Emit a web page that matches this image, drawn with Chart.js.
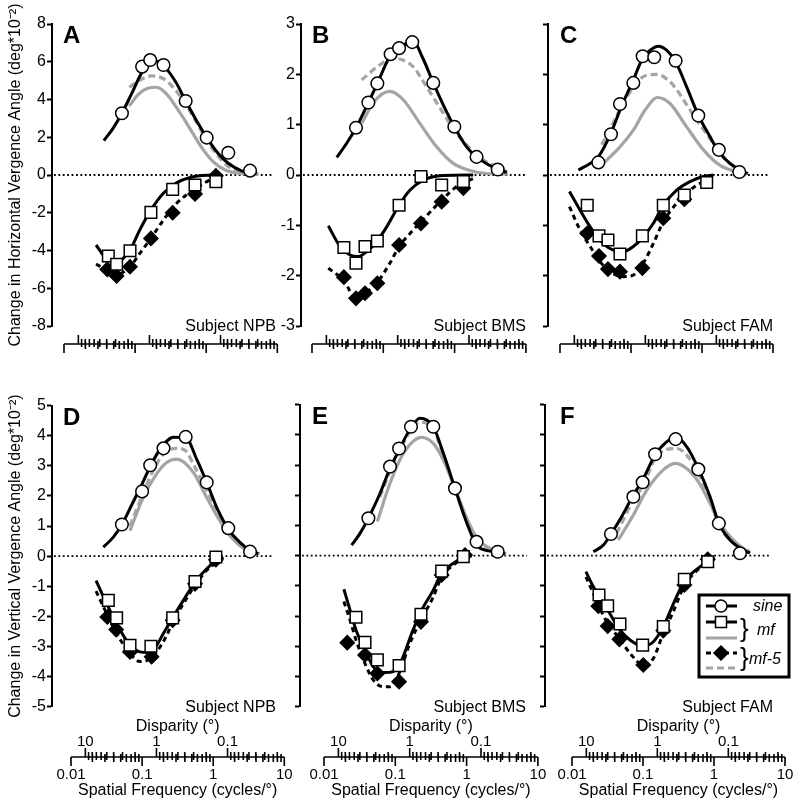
<!DOCTYPE html>
<html>
<head>
<meta charset="utf-8">
<script src="https://cdn.jsdelivr.net/npm/chart.js@4.4.1/dist/chart.umd.min.js"></script>
<style>
  html, body { margin: 0; padding: 0; background: #fff; }
  #wrap { position: relative; width: 800px; height: 801px; overflow: hidden; background: #fff; }
  #wrap canvas { position: absolute; }
</style>
</head>
<body>
<div id="wrap"></div>
<script>
// ---- data: [spatial frequency (cycles/deg), change in vergence (deg*10^-2)] ----
// panel A (horizontal, NPB)
const sineA = [[0.052,3.27],[0.10,5.74],[0.13,6.09],[0.20,5.83],[0.41,3.92],[0.81,1.98],[1.63,1.18],[3.3,0.23]];
const sineFitA = [[0.029,1.82],[0.039,2.47],[0.052,3.27],[0.071,4.3],[0.10,5.45],[0.13,5.95],[0.16,6.02],[0.20,5.8],[0.30,4.9],[0.41,3.92],[0.60,2.8],[0.81,1.98],[1.2,1.1],[1.63,0.62],[2.5,0.22],[4.1,0.1]];
const mfPosA = [[0.066,3.66],[0.09,4.3],[0.12,4.6],[0.16,4.65],[0.22,4.3],[0.34,3.3],[0.5,2.3],[0.65,1.6],[0.81,1.1],[1.0,0.7],[1.5,0.25],[2.5,0.08],[4.3,0.03]];
const mf5PosA = [[0.066,4.65],[0.09,5.0],[0.136,5.25],[0.2,5.1],[0.28,4.6],[0.41,3.75],[0.6,2.7],[0.81,1.85],[1.2,0.95],[1.63,0.45],[2.5,0.18],[4.3,0.08]];
const mfA = [[0.0335,-4.29],[0.0438,-4.73],[0.0676,-4.01],[0.133,-1.98],[0.269,-0.76],[0.555,-0.53],[1.09,-0.35]];
const mfFitA = [[0.0225,-3.71],[0.0318,-4.45],[0.0438,-4.6],[0.0676,-3.98],[0.093,-2.9],[0.133,-1.86],[0.199,-0.97],[0.306,-0.41],[0.526,-0.09],[1.0,0],[1.32,0]];
const mf5A = [[0.0324,-5.0],[0.0438,-5.35],[0.0676,-4.86],[0.133,-3.36],[0.269,-2.0],[0.555,-1.01],[1.09,-0.04]];
const mf5FitA = [[0.0225,-4.72],[0.0318,-5.03],[0.0438,-5.27],[0.0676,-4.86],[0.093,-4.15],[0.133,-3.36],[0.199,-2.39],[0.306,-1.5],[0.526,-0.8],[1.0,-0.18],[1.32,-0.04]];

// panel B (horizontal, BMS)
const sineB = [[0.0281,0.94],[0.0419,1.44],[0.056,1.82],[0.086,2.4],[0.113,2.52],[0.173,2.64],[0.341,1.83],[0.673,0.96],[1.38,0.36],[2.73,0.11]];
const sineFitB = [[0.0151,0.35],[0.0208,0.63],[0.0281,0.94],[0.0419,1.44],[0.056,1.82],[0.086,2.38],[0.13,2.58],[0.178,2.65],[0.247,2.3],[0.341,1.83],[0.472,1.39],[0.673,0.96],[1.0,0.56],[1.38,0.36],[2.73,0.11],[3.65,0.05]];
const mfPosB = [[0.034,1.03],[0.05,1.45],[0.084,1.66],[0.13,1.49],[0.22,1.03],[0.38,0.56],[0.65,0.23],[1.11,0.09],[1.9,0.03],[3.8,0.02]];
const mf5PosB = [[0.0337,1.89],[0.061,2.19],[0.094,2.32],[0.13,2.28],[0.178,2.15],[0.275,1.75],[0.47,1.23],[0.72,0.83],[1.11,0.53],[1.71,0.3],[3.3,0.1],[3.8,0.05]];
const mfB = [[0.019,-1.44],[0.0281,-1.75],[0.0376,-1.42],[0.056,-1.31],[0.113,-0.6],[0.229,-0.03],[0.447,-0.2],[0.90,-0.13]];
const mfFitB = [[0.0115,-1.01],[0.0168,-1.42],[0.0232,-1.59],[0.0303,-1.62],[0.0398,-1.52],[0.055,-1.32],[0.0757,-1.03],[0.113,-0.6],[0.161,-0.3],[0.247,-0.1],[0.472,-0.01],[1.24,0]];
const mf5B = [[0.019,-2.03],[0.0281,-2.45],[0.0376,-2.35],[0.056,-2.15],[0.113,-1.39],[0.229,-0.96],[0.447,-0.53],[0.90,-0.26]];
const mf5FitB = [[0.0115,-1.85],[0.019,-2.1],[0.0281,-2.45],[0.0376,-2.35],[0.056,-2.13],[0.084,-1.75],[0.113,-1.42],[0.161,-1.16],[0.229,-0.93],[0.447,-0.5],[0.726,-0.23],[1.24,-0.07]];

// panel C (horizontal, FAM)
const sineC = [[0.0235,0.25],[0.0354,0.81],[0.0474,1.41],[0.0731,1.83],[0.0989,2.36],[0.144,2.34],[0.288,2.27],[0.601,1.18],[1.17,0.5],[2.27,0.06]];
const sineFitC = [[0.0123,0.1],[0.018,0.23],[0.0235,0.36],[0.0354,0.83],[0.0474,1.29],[0.0731,1.89],[0.0989,2.32],[0.126,2.48],[0.164,2.56],[0.215,2.48],[0.288,2.25],[0.412,1.75],[0.601,1.19],[0.88,0.76],[1.17,0.46],[1.68,0.23],[2.59,0.07],[3.0,0.03]];
const mfPosC = [[0.0262,0.2],[0.0474,0.56],[0.0731,0.89],[0.107,1.29],[0.16,1.54],[0.24,1.42],[0.41,0.96],[0.71,0.5],[1.22,0.19],[2.59,0.03]];
const mf5PosC = [[0.0262,0.6],[0.0354,0.95],[0.0474,1.3],[0.0731,1.75],[0.1,1.95],[0.156,2.0],[0.22,1.9],[0.29,1.72],[0.41,1.4],[0.6,1.05],[0.88,0.72],[1.17,0.48],[1.68,0.22],[2.6,0.06],[3.0,0.02]];
const mfC = [[0.0164,-0.6],[0.024,-1.21],[0.0321,-1.29],[0.0474,-1.57],[0.098,-1.21],[0.193,-0.6],[0.382,-0.4],[0.789,-0.15]];
const mfFitC = [[0.0092,-0.33],[0.013,-0.7],[0.018,-1.03],[0.0248,-1.29],[0.0343,-1.46],[0.0528,-1.52],[0.073,-1.42],[0.101,-1.23],[0.14,-0.96],[0.193,-0.6],[0.298,-0.3],[0.459,-0.13],[0.708,-0.03],[0.98,0]];
const mf5C = [[0.0164,-1.16],[0.024,-1.61],[0.0321,-1.87],[0.0474,-1.92],[0.098,-1.85],[0.193,-0.86],[0.382,-0.48]];
const mf5FitC = [[0.0092,-0.63],[0.013,-1.09],[0.018,-1.42],[0.0248,-1.72],[0.0343,-1.92],[0.0528,-2.02],[0.073,-1.99],[0.101,-1.75],[0.14,-1.36],[0.193,-0.93],[0.298,-0.56],[0.459,-0.3],[0.708,-0.13],[0.98,-0.03]];

// panel D (vertical, NPB)
const sineD = [[0.052,1.05],[0.10,2.15],[0.13,3.02],[0.20,3.58],[0.41,3.96],[0.81,2.45],[1.63,0.93],[3.3,0.15]];
const sineFitD = [[0.0285,0.3],[0.0394,0.63],[0.052,1.05],[0.0713,1.7],[0.10,2.4],[0.133,3.02],[0.179,3.55],[0.275,3.95],[0.41,3.94],[0.585,3.22],[0.81,2.45],[1.12,1.62],[1.63,0.9],[2.38,0.46],[3.3,0.19],[4.3,0.08]];
const mfPosD = [[0.0676,0.85],[0.104,1.95],[0.16,2.73],[0.22,3.1],[0.306,3.22],[0.527,2.78],[0.81,1.95],[1.12,1.35],[1.63,0.74],[2.38,0.35],[3.67,0.13],[4.5,0.08]];
const mf5PosD = [[0.0676,1.0],[0.104,2.1],[0.144,2.85],[0.2,3.4],[0.306,3.58],[0.41,3.5],[0.527,3.05],[0.81,2.2],[1.12,1.5],[1.63,0.85],[2.38,0.41],[3.3,0.19],[4.3,0.08]];
const mfD = [[0.0335,-1.47],[0.0438,-2.05],[0.0676,-2.96],[0.133,-2.99],[0.269,-2.05],[0.555,-0.84],[1.09,-0.03]];
const mfFitD = [[0.0225,-0.81],[0.0318,-1.58],[0.0438,-2.24],[0.0676,-2.96],[0.093,-3.18],[0.12,-3.2],[0.16,-2.96],[0.199,-2.57],[0.269,-2.05],[0.38,-1.47],[0.555,-0.86],[0.81,-0.42],[1.12,-0.14],[1.39,-0.03]];
const mf5D = [[0.0324,-2.02],[0.0432,-2.44],[0.0676,-3.18],[0.136,-3.34],[0.269,-2.13],[0.555,-0.92],[1.09,-0.12]];
const mf5FitD = [[0.0225,-1.16],[0.0318,-1.91],[0.0438,-2.57],[0.0676,-3.23],[0.093,-3.5],[0.12,-3.45],[0.16,-3.18],[0.222,-2.63],[0.269,-2.19],[0.38,-1.58],[0.555,-0.97],[0.81,-0.47],[1.12,-0.2],[1.39,-0.03]];

// panel E (vertical, BMS)
const sineE = [[0.0419,1.24],[0.0843,2.95],[0.113,3.55],[0.166,4.27],[0.341,4.27],[0.687,2.23],[1.38,0.46],[2.73,0.13]];
const sineFitE = [[0.0244,0.35],[0.032,0.74],[0.0419,1.24],[0.061,2.06],[0.0843,2.89],[0.113,3.5],[0.16,4.18],[0.222,4.55],[0.341,4.27],[0.472,3.39],[0.687,2.23],[1.0,1.1],[1.38,0.35],[2.13,0.15],[3.46,0.06]];
const mfPosE = [[0.056,1.13],[0.0843,2.4],[0.13,3.39],[0.234,3.92],[0.341,3.72],[0.472,3.17],[0.687,2.23],[1.0,1.25],[1.38,0.6],[2.13,0.24],[3.6,0.06]];
const mf5PosE = [[0.061,1.95],[0.0843,2.8],[0.113,3.45],[0.16,4.1],[0.222,4.42],[0.341,4.18],[0.472,3.35],[0.687,2.2],[1.0,1.15],[1.38,0.5],[2.13,0.2],[3.46,0.06]];
const mfE = [[0.0281,-2.04],[0.0376,-2.87],[0.056,-3.45],[0.113,-3.64],[0.229,-1.94],[0.447,-0.51],[0.90,-0.03]];
const mfFitE = [[0.019,-1.11],[0.0232,-1.8],[0.0281,-2.46],[0.0376,-3.12],[0.0492,-3.68],[0.068,-3.87],[0.0938,-3.84],[0.123,-3.45],[0.17,-2.57],[0.229,-1.85],[0.341,-1.14],[0.447,-0.58],[0.652,-0.25],[0.9,-0.06],[1.18,0]];
const mf5E = [[0.0212,-2.88],[0.0376,-3.29],[0.056,-3.9],[0.113,-4.17],[0.229,-2.19],[0.447,-0.64],[0.95,0.02]];
const mf5FitE = [[0.019,-1.52],[0.0232,-2.13],[0.0281,-2.79],[0.0376,-3.57],[0.0492,-4.12],[0.068,-4.34],[0.0843,-4.34],[0.113,-3.9],[0.16,-2.9],[0.229,-2.13],[0.341,-1.36],[0.447,-0.7],[0.652,-0.31],[0.95,-0.03]];

// panel F (vertical, FAM)
const sineF = [[0.0354,0.72],[0.0731,1.95],[0.0989,2.43],[0.148,3.36],[0.288,3.86],[0.601,2.86],[1.17,1.07],[2.32,0.08]];
const sineFitF = [[0.02,0.13],[0.0276,0.35],[0.0354,0.72],[0.05,1.29],[0.0731,2.01],[0.0989,2.51],[0.148,3.33],[0.215,3.77],[0.298,3.92],[0.412,3.61],[0.601,2.89],[0.88,1.95],[1.17,1.07],[1.68,0.52],[2.59,0.19],[3.21,0.08]];
const mfPosF = [[0.045,0.52],[0.0731,1.35],[0.113,2.17],[0.193,2.84],[0.282,3.06],[0.412,2.89],[0.601,2.45],[0.88,1.73],[1.17,1.13],[1.68,0.63],[2.59,0.24],[3.21,0.13]];
const mf5PosF = [[0.0425,0.74],[0.0731,1.84],[0.101,2.34],[0.148,3.22],[0.215,3.52],[0.298,3.55],[0.412,3.33],[0.601,2.73],[0.88,1.84],[1.17,1.02],[1.68,0.52],[2.59,0.19],[3.21,0.13]];
const mfF = [[0.024,-1.3],[0.0318,-1.66],[0.0474,-2.26],[0.0989,-2.96],[0.193,-2.35],[0.382,-0.78],[0.815,-0.2]];
const mfFitF = [[0.0157,-0.53],[0.02,-1.03],[0.024,-1.36],[0.0318,-1.8],[0.0474,-2.46],[0.0656,-2.79],[0.0989,-2.99],[0.14,-2.85],[0.193,-2.35],[0.267,-1.6],[0.382,-0.85],[0.57,-0.45],[0.815,-0.2],[1.03,-0.09]];
const mf5F = [[0.0235,-1.67],[0.0318,-2.33],[0.0465,-2.77],[0.101,-3.62],[0.193,-2.48],[0.382,-0.97],[0.815,-0.12]];
const mf5FitF = [[0.0157,-0.7],[0.02,-1.25],[0.0235,-1.63],[0.0318,-2.24],[0.0465,-2.74],[0.0656,-3.23],[0.101,-3.62],[0.14,-3.4],[0.193,-2.57],[0.267,-1.85],[0.382,-1.0],[0.57,-0.5],[0.815,-0.2],[1.03,-0.09]];

// axis ticks and labels
const sfMajor = [0.01, 0.1, 1, 10];
const sfTickLabels = ['0.01', '0.1', '1', '10'];
const dispMajor = [10, 1, 0.1];
const dispTickLabels = ['10', '1', '0.1'];
const legendLabels = ['sine', 'mf', 'mf-5'];

const FONT = '"Liberation Sans", Arial, Helvetica, sans-serif';
const GRAY = '#a4a4a4';

// ---- layout ----
const rows = [
  { top: 0, height: 400, areaTop: 24, areaBottom: 326, axisY: 344, axisLabels: false },
  { top: 395, height: 406, areaTop: 404.6, areaBottom: 706.7, axisY: 757, axisLabels: true }
];
const cols = [
  { left: 0, width: 300, zero: 71, ppd: 71.1, yAxisX: [52, 52], right: [272, 272], shift: [-7, 0], subjectRight: 276, letterX: 63 },
  { left: 258, width: 300, zero: 324, ppd: 71.3, yAxisX: [301, 300], right: [527, 527], shift: [-12, 0], subjectRight: 526, letterX: 312 },
  { left: 508, width: 292, zero: 572, ppd: 71, yAxisX: [548, 545], right: [768, 770], shift: [-12, 0], subjectRight: 773, letterX: 560 }
];

const panels = [
  { letter: 'A', row: 0, col: 0, subject: 'Subject NPB', yMin: -8, yMax: 8, step: 2, labels: true,
    title: 'Change in Horizontal Vergence Angle (deg*10\u207B\u00B2)',
    sine: sineA, sineFit: sineFitA, mfPos: mfPosA, mf5Pos: mf5PosA, mf: mfA, mfFit: mfFitA, mf5: mf5A, mf5Fit: mf5FitA },
  { letter: 'B', row: 0, col: 1, subject: 'Subject BMS', yMin: -3, yMax: 3, step: 1, labels: true,
    sine: sineB, sineFit: sineFitB, mfPos: mfPosB, mf5Pos: mf5PosB, mf: mfB, mfFit: mfFitB, mf5: mf5B, mf5Fit: mf5FitB },
  { letter: 'C', row: 0, col: 2, subject: 'Subject FAM', yMin: -3, yMax: 3, step: 1, labels: false,
    sine: sineC, sineFit: sineFitC, mfPos: mfPosC, mf5Pos: mf5PosC, mf: mfC, mfFit: mfFitC, mf5: mf5C, mf5Fit: mf5FitC },
  { letter: 'D', row: 1, col: 0, subject: 'Subject NPB', yMin: -5, yMax: 5, step: 1, labels: true,
    title: 'Change in Vertical Vergence Angle (deg*10\u207B\u00B2)',
    sine: sineD, sineFit: sineFitD, mfPos: mfPosD, mf5Pos: mf5PosD, mf: mfD, mfFit: mfFitD, mf5: mf5D, mf5Fit: mf5FitD },
  { letter: 'E', row: 1, col: 1, subject: 'Subject BMS', yMin: -5, yMax: 5, step: 1, labels: false,
    sine: sineE, sineFit: sineFitE, mfPos: mfPosE, mf5Pos: mf5PosE, mf: mfE, mfFit: mfFitE, mf5: mf5E, mf5Fit: mf5FitE },
  { letter: 'F', row: 1, col: 2, subject: 'Subject FAM', yMin: -5, yMax: 5, step: 1, labels: false, legend: true,
    sine: sineF, sineFit: sineFitF, mfPos: mfPosF, mf5Pos: mf5PosF, mf: mfF, mfFit: mfFitF, mf5: mf5F, mf5Fit: mf5FitF }
];

const toSF = d => 1 / (2 * Math.PI * d);

function drawMarker(ctx, style, x, y) {
  ctx.save();
  ctx.lineWidth = 1.5;
  ctx.strokeStyle = '#000';
  ctx.beginPath();
  if (style === 'circle') {
    ctx.fillStyle = '#fff';
    ctx.arc(x, y, 6, 0, Math.PI * 2);
  } else if (style === 'rect') {
    ctx.fillStyle = '#fff';
    ctx.rect(x - 5.5, y - 5.5, 11, 11);
  } else {
    ctx.fillStyle = '#000';
    ctx.moveTo(x - 7, y); ctx.lineTo(x, y - 7); ctx.lineTo(x + 7, y); ctx.lineTo(x, y + 7);
    ctx.closePath();
  }
  ctx.fill();
  ctx.stroke();
  ctx.restore();
}

// dotted zero line
const zeroLine = {
  id: 'zeroLine',
  beforeDatasetsDraw(chart) {
    const { ctx, chartArea } = chart;
    const y = chart.scales.y.getPixelForValue(0);
    ctx.save();
    ctx.strokeStyle = '#000';
    ctx.lineWidth = 1.8;
    ctx.setLineDash([1.8, 2.6]);
    ctx.beginPath();
    ctx.moveTo(chartArea.left + 2, y);
    ctx.lineTo(chartArea.right, y);
    ctx.stroke();
    ctx.restore();
  }
};

// spatial frequency axis with disparity ticks on the same line
const sfAxis = {
  id: 'sfAxis',
  afterDraw(chart, args, o) {
    const ctx = chart.ctx;
    const xs = chart.scales.x;
    const px = v => xs.getPixelForValue(v) + o.shift;
    const y = o.y;
    ctx.save();
    ctx.strokeStyle = '#000';
    ctx.lineWidth = 1.6;
    ctx.beginPath();
    ctx.moveTo(px(0.01), y);
    ctx.lineTo(px(10), y);
    sfMajor.forEach(v => { ctx.moveTo(px(v), y); ctx.lineTo(px(v), y + 9); });
    dispMajor.forEach(d => { ctx.moveTo(px(toSF(d)), y); ctx.lineTo(px(toSF(d)), y - 9); });
    for (const dec of [0.01, 0.1, 1]) {
      for (let k = 2; k <= 9; k++) {
        const x1 = px(k * dec);
        ctx.moveTo(x1, y - 3); ctx.lineTo(x1, y + 5);
        const x2 = px(toSF(k * dec));
        ctx.moveTo(x2, y - 5); ctx.lineTo(x2, y + 3);
      }
    }
    ctx.stroke();
    if (o.labels) {
      ctx.fillStyle = '#000';
      ctx.font = '15px ' + FONT;
      ctx.textAlign = 'center';
      ctx.textBaseline = 'alphabetic';
      dispMajor.forEach((d, i) => ctx.fillText(dispTickLabels[i], px(toSF(d)), y - 11));
      sfMajor.forEach((v, i) => ctx.fillText(sfTickLabels[i], px(v), y + 22));
      const mid = (px(0.01) + px(10)) / 2;
      ctx.font = '16px ' + FONT;
      ctx.fillText('Disparity (\u00B0)', mid, y - 26);
      ctx.fillText('Spatial Frequency (cycles/\u00B0)', mid, y + 38);
    }
    ctx.restore();
  }
};

// panel letter and subject name
const panelText = {
  id: 'panelText',
  afterDraw(chart, args, o) {
    const { ctx, chartArea } = chart;
    ctx.save();
    ctx.fillStyle = '#000';
    ctx.font = 'bold 24px ' + FONT;
    ctx.textAlign = 'left';
    ctx.fillText(o.letter, o.letterX, chartArea.top + 19);
    ctx.font = '16px ' + FONT;
    ctx.textAlign = 'right';
    ctx.fillText(o.subject, o.subjectRight, chartArea.bottom + 5);
    ctx.restore();
  }
};

// legend box with braces
const legendBox = {
  id: 'legendBox',
  afterDraw(chart, args, o) {
    const ctx = chart.ctx;
    const X = v => v - o.left;
    const Y = v => v - o.top;
    ctx.save();
    ctx.fillStyle = '#fff';
    ctx.fillRect(X(699), Y(595), 90, 82);
    ctx.strokeStyle = '#000';
    ctx.lineWidth = 3;
    ctx.strokeRect(X(699), Y(595), 90, 82);
    const lines = [
      { y: 606, color: '#000', dash: [], marker: 'circle' },
      { y: 622, color: '#000', dash: [], marker: 'rect' },
      { y: 638, color: GRAY, dash: [] },
      { y: 653, color: '#000', dash: [5, 4], marker: 'diamond' },
      { y: 668, color: GRAY, dash: [7, 4] }
    ];
    lines.forEach(l => {
      ctx.save();
      ctx.strokeStyle = l.color;
      ctx.lineWidth = 3;
      ctx.setLineDash(l.dash);
      ctx.beginPath();
      ctx.moveTo(X(706), Y(l.y));
      ctx.lineTo(X(737), Y(l.y));
      ctx.stroke();
      ctx.restore();
      if (l.marker) drawMarker(ctx, l.marker, X(721), Y(l.y));
    });
    ctx.fillStyle = '#000';
    ctx.textBaseline = 'middle';
    ctx.textAlign = 'left';
    ctx.font = 'italic 16px ' + FONT;
    ctx.fillText(legendLabels[0], X(753), Y(607));
    ctx.fillText(legendLabels[1], X(757), Y(631));
    ctx.fillText(legendLabels[2], X(749), Y(660));
    ctx.font = '26px ' + FONT;
    ctx.fillText('}', X(740), Y(630));
    ctx.fillText('}', X(740), Y(659));
    ctx.restore();
  }
};

const pts = arr => arr.map(([x, y]) => ({ x, y }));

const wrap = document.getElementById('wrap');

panels.forEach(p => {
  const row = rows[p.row];
  const col = cols[p.col];
  const canvas = document.createElement('canvas');
  canvas.width = col.width;
  canvas.height = row.height;
  canvas.style.left = col.left + 'px';
  canvas.style.top = row.top + 'px';
  wrap.appendChild(canvas);

  const axisPx = col.yAxisX[p.row];
  const rightPx = col.right[p.row];
  const xMin = Math.pow(10, -2 + (axisPx - col.zero) / col.ppd);
  const xMax = Math.pow(10, -2 + (rightPx - col.zero) / col.ppd);

  const curve = (data, color, dash, order) => ({
    data: pts(data), borderColor: color, borderWidth: color === GRAY ? 3.2 : 3,
    borderDash: dash, pointRadius: 0, cubicInterpolationMode: 'monotone',
    fill: false, order: order, clip: false
  });
  const marks = (data, style, radius, fillColor, order) => ({
    data: pts(data), showLine: false, pointStyle: style, pointRadius: radius,
    pointBackgroundColor: fillColor, pointBorderColor: '#000', pointBorderWidth: 1.5,
    order: order, clip: false
  });

  const datasets = [
    curve(p.mfPos, GRAY, [], 10),
    curve(p.mf5Pos, GRAY, [7, 4], 9),
    curve(p.sineFit, '#000', [], 8),
    curve(p.mfFit, '#000', [], 7),
    curve(p.mf5Fit, '#000', [5, 4], 6),
    marks(p.mf5, 'rectRot', 7, '#000', 3),
    marks(p.mf, 'rect', 8.2, '#fff', 2),
    marks(p.sine, 'circle', 6.3, '#fff', 1)
  ];

  const plugins = [zeroLine, sfAxis, panelText];
  if (p.legend) plugins.push(legendBox);

  new Chart(canvas, {
    type: 'line',
    data: { datasets: datasets },
    options: {
      responsive: false,
      animation: false,
      events: [],
      layout: {
        padding: {
          left: 0,
          top: row.areaTop - row.top,
          right: col.width - (rightPx - col.left),
          bottom: row.top + row.height - row.areaBottom
        }
      },
      scales: {
        x: { type: 'logarithmic', display: false, min: xMin, max: xMax },
        y: {
          type: 'linear',
          position: 'left',
          min: p.yMin,
          max: p.yMax,
          afterFit: s => { s.width = axisPx - col.left; },
          border: { display: true, color: '#000', width: 2 },
          grid: { drawOnChartArea: false, drawTicks: true, tickLength: 5, tickWidth: 2, tickColor: '#000' },
          ticks: { display: p.labels, stepSize: p.step, color: '#000', padding: 1, font: { size: 16, family: FONT } },
          title: {
            display: !!p.title, text: p.title || '', color: '#000',
            font: { size: 16, family: FONT }, padding: { top: 6, bottom: 0 }
          }
        }
      },
      plugins: {
        legend: { display: false },
        tooltip: { enabled: false },
        sfAxis: { y: row.axisY - row.top, shift: col.shift[p.row], labels: row.axisLabels },
        panelText: { letter: p.letter, letterX: col.letterX - col.left, subject: p.subject, subjectRight: col.subjectRight - col.left },
        legendBox: { left: col.left, top: row.top }
      }
    },
    plugins: plugins
  });
});
</script>
</body>
</html>
